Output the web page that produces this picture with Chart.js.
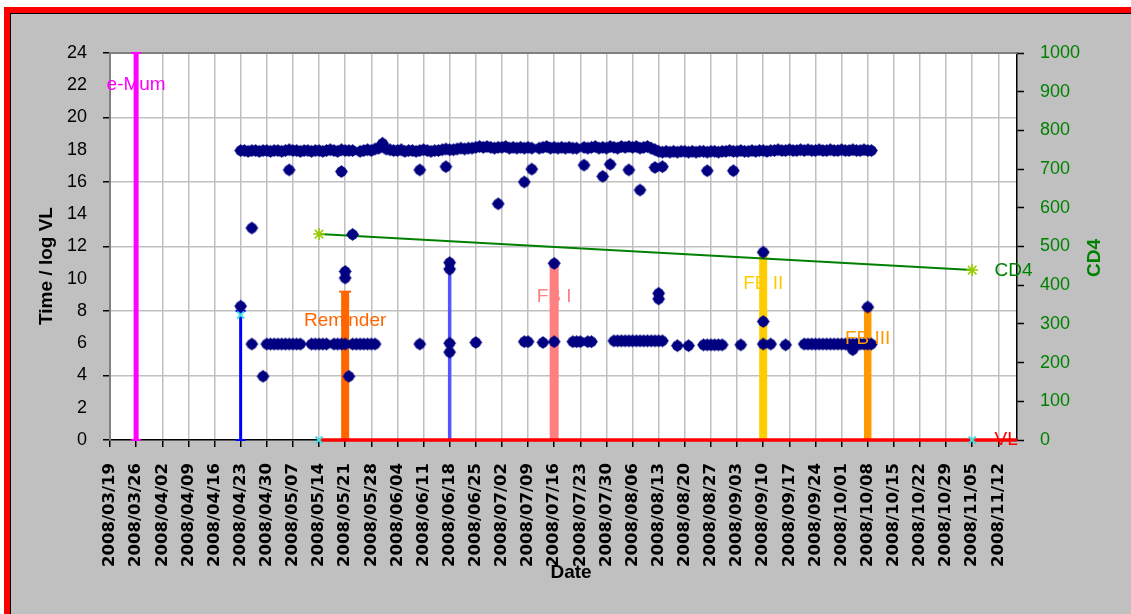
<!DOCTYPE html>
<html><head><meta charset="utf-8">
<script src="https://cdn.jsdelivr.net/npm/chart.js@4"></script>
<style>html,body{margin:0;padding:0;background:#fff;}canvas{display:block;}</style>
</head><body>
<canvas id="c" width="1131" height="614" style="width:1131px;height:614px"></canvas>
<script>
// x values are days counted from 2008/03/19 (day 0)
const weekLabels = ['2008/03/19','2008/03/26','2008/04/02','2008/04/09','2008/04/16','2008/04/23','2008/04/30','2008/05/07','2008/05/14','2008/05/21','2008/05/28','2008/06/04','2008/06/11','2008/06/18','2008/06/25','2008/07/02','2008/07/09','2008/07/16','2008/07/23','2008/07/30','2008/08/06','2008/08/13','2008/08/20','2008/08/27','2008/09/03','2008/09/10','2008/09/17','2008/09/24','2008/10/01','2008/10/08','2008/10/15','2008/10/22','2008/10/29','2008/11/05','2008/11/12'];

// evening dose times, one per day starting at day 35 (2008/04/23)
const topRowStartDay = 35;
const topRowTimes = [
17.95,17.95,17.9,17.95,17.95,17.9,17.95,17.95,17.9,17.95,
17.95,17.9,17.95,18.0,17.95,17.95,17.9,17.95,17.95,17.9,
17.95,17.95,17.9,17.95,18.0,17.95,17.9,18.0,17.95,17.95,
17.95,null,17.9,17.95,18.0,17.95,18.05,18.1,18.4,18.05,
18.0,17.95,17.95,18.0,17.9,17.95,17.95,17.9,17.95,18.0,
17.95,17.9,17.95,17.95,18.0,18.05,18.0,18.0,18.05,18.1,
18.05,18.1,18.1,18.15,18.2,18.15,18.2,18.15,18.1,18.15,
18.15,18.2,18.1,18.15,18.1,18.15,18.1,18.15,18.1,null,
18.1,18.15,18.2,18.1,18.15,18.1,18.15,18.1,18.15,18.1,
18.1,null,18.15,18.1,18.15,18.2,18.1,18.15,18.1,18.2,
18.15,18.1,18.2,18.15,18.2,18.15,18.2,18.1,18.15,18.2,
18.1,18.0,17.9,17.85,17.9,17.85,17.9,17.85,17.9,17.9,
17.85,17.9,17.85,17.9,17.9,17.85,17.9,17.9,17.85,17.9,
17.9,17.95,17.9,17.9,17.95,17.9,17.9,17.95,17.9,17.95,
17.95,17.9,17.95,17.95,18.0,17.95,17.95,18.0,17.95,17.95,
18.0,17.95,18.0,17.95,17.95,18.0,17.95,17.95,18.0,17.95,
17.95,18.0,17.95,17.95,18.0,17.95,17.95,18.0,17.95,17.95];

// morning dose times
const lowRowDays = [38,41,42,43,44,45,46,47,48,49,50,51,54,55,56,57,58,60,61,62,63,64,65,66,67,68,69,70,71,83,91,91,98,111,112,116,119,124,125,126,128,129,
135,136,137,138,139,140,141,142,143,144,145,146,147,148,152,155,159,160,161,162,163,164,169,175,177,181,
186,187,188,189,190,191,192,193,194,195,196,197,198,199,199,200,201,202,203,204];
const lowRowTimes = [5.95,3.95,5.95,5.95,5.95,5.95,5.95,5.95,5.95,5.95,5.95,5.95,5.95,5.95,5.95,5.95,5.95,5.95,5.95,5.95,5.95,3.95,5.95,5.95,5.95,5.95,5.95,5.95,5.95,5.95,6.0,5.45,6.05,6.1,6.1,6.05,6.1,6.1,6.1,6.1,6.1,6.1,
6.15,6.15,6.15,6.15,6.15,6.15,6.15,6.15,6.15,6.15,6.15,6.15,6.15,6.15,5.85,5.85,5.9,5.9,5.9,5.9,5.9,5.9,5.9,5.95,5.95,5.9,
5.95,5.95,5.95,5.95,5.95,5.95,5.95,5.95,5.95,5.95,5.95,5.95,5.95,5.95,5.6,5.95,5.95,5.95,5.95,5.95];

// other measurements (irregular times / log VL)
const otherDays = [35,38,48,62,63,63,65,83,90,91,91,104,111,113,119,127,132,134,139,142,146,147,147,148,160,167,175,175,203];
const otherTimes = [8.3,13.15,16.75,16.65,10.45,10.05,12.75,16.75,16.95,11.0,10.6,14.65,16.0,16.8,10.95,17.05,16.35,17.1,16.75,15.5,16.9,9.1,8.75,16.95,16.7,16.7,11.65,7.35,8.25];

const vlDays = [35, 56, 231];
const vlValues = [7.75, 0, 0];
const vlLineDays = [56, 243];
const vlLineValues = [0, 0];
const cd4Days = [56, 231];
const cd4Values = [532, 439];

const eventNames = ['e-Mum','VL 1','Reminder','VL 2','FB I','FB II','FB III'];
const eventDays = [7, 35, 63, 91, 119, 175, 203];
const eventTops = [24, 8.0, 9.2, 10.6, 11.0, 11.6, 8.2];
const eventStyle = [
  {color:'#FF00FF', width:5, cap:5},
  {color:'#0000FF', width:3, cap:5},
  {color:'#FF6600', width:8, cap:6},
  {color:'#5555FF', width:3.5, cap:5},
  {color:'#FF8080', width:9, cap:6},
  {color:'#FFCC00', width:8, cap:6},
  {color:'#FF9900', width:7.5, cap:6}
];

const labelTexts = ['e-Mum','Reminder','FB I','FB II','FB III','CD4','VL'];
const labelDays = [7, 63, 119, 175, 203, 237, 237];
const labelValues = [22.05, 7.4, 8.9, 9.67, 6.3, 10.5, 0];
const labelStyle = [
  {color:'#FF00FF', align:'center'},
  {color:'#FF6600', align:'center'},
  {color:'#FF8080', align:'center'},
  {color:'#FFCC00', align:'center'},
  {color:'#FF9900', align:'center'},
  {color:'#008000', align:'left'},
  {color:'#FF0000', align:'left'}
];

const pts = (xs, ys) => xs.map((x, i) => ({x: x, y: ys[i]}));
const topRowPts = topRowTimes.map((v, i) => ({x: topRowStartDay + i, y: v}));

const NAVY = '#000080';
// blobby diamond marker like the original
const marker = document.createElement('canvas');
marker.width = 15; marker.height = 15;
(function () {
  const m = marker.getContext('2d');
  m.fillStyle = NAVY;
  m.beginPath(); m.moveTo(7.5, 1); m.lineTo(14, 7.5); m.lineTo(7.5, 14); m.lineTo(1, 7.5); m.closePath(); m.fill();
  m.beginPath(); m.arc(7.5, 7.5, 5.3, 0, Math.PI * 2); m.fill();
})();

const markerDs = (data) => ({
  data, showLine: false, pointStyle: marker, pointRadius: 7, pointHoverRadius: 7, clip: false
});

const datasets = [
  markerDs(topRowPts),
  markerDs(pts(lowRowDays, lowRowTimes)),
  markerDs(pts(otherDays, otherTimes)),
  {data: pts(vlDays, vlValues), showLine: false, pointStyle: 'crossRot', pointRadius: 5,
   pointBorderColor: '#40E0E0', pointBorderWidth: 2, clip: false},
  {data: pts(cd4Days, cd4Values), yAxisID: 'y2', borderColor: '#008000', borderWidth: 2,
   pointStyle: 'star', pointRadius: 6, pointBorderColor: '#99CC00', pointBackgroundColor: '#99CC00', pointBorderWidth: 1.5, clip: false},
  {data: pts(vlLineDays, vlLineValues), borderColor: '#FF0000', borderWidth: 3.5, pointRadius: 0, clip: false}
];
eventDays.forEach((d, i) => {
  const s = eventStyle[i];
  datasets.push({
    label: eventNames[i],
    data: [{x: d, y: 0}, {x: d, y: eventTops[i]}],
    borderColor: s.color, borderWidth: s.width, pointStyle: 'line', pointRadius: s.cap,
    pointBorderColor: s.color, pointBorderWidth: 2, clip: false
  });
});

const framePlugin = {
  id: 'frame',
  beforeDraw(chart) {
    const ctx = chart.ctx, W = chart.width, H = chart.height, a = chart.chartArea;
    ctx.save();
    ctx.fillStyle = '#FFFFFF'; ctx.fillRect(0, 0, W, H);
    ctx.fillStyle = '#C0C0C0'; ctx.fillRect(10, 13, W - 10, H - 13);
    ctx.fillStyle = '#FF0000'; ctx.fillRect(4, 7, W - 4, 6); ctx.fillRect(4, 7, 6, H - 7);
    ctx.fillStyle = '#000000'; ctx.fillRect(10, 13, W - 10, 1); ctx.fillRect(10, 13, 1, H - 13);
    ctx.fillStyle = '#FFFFFF'; ctx.fillRect(a.left, a.top, a.right - a.left, a.bottom - a.top);
    ctx.restore();
  },
  beforeDatasetsDraw(chart) {
    const ctx = chart.ctx, a = chart.chartArea;
    ctx.save();
    ctx.strokeStyle = '#808080'; ctx.lineWidth = 2;
    ctx.beginPath(); ctx.moveTo(a.left - 1, a.top); ctx.lineTo(a.right, a.top); ctx.stroke();
    ctx.restore();
  },
  afterDatasetsDraw(chart) {
    const ctx = chart.ctx, xs = chart.scales.x, ys = chart.scales.y;
    ctx.save();
    ctx.font = '19px "Liberation Sans", Arial, sans-serif';
    ctx.textBaseline = 'middle';
    labelTexts.forEach((t, i) => {
      ctx.fillStyle = labelStyle[i].color;
      ctx.textAlign = labelStyle[i].align;
      ctx.fillText(t, xs.getPixelForValue(labelDays[i]), ys.getPixelForValue(labelValues[i]));
    });
    ctx.restore();
  },
  afterDraw(chart) {
    const ctx = chart.ctx;
    ctx.save();
    ctx.font = 'bold 19px "Liberation Sans", Arial, sans-serif';
    ctx.textAlign = 'center'; ctx.textBaseline = 'middle';
    ctx.fillStyle = '#000000';
    ctx.save(); ctx.translate(47, 266); ctx.rotate(-Math.PI / 2); ctx.fillText('Time / log VL', 0, 0); ctx.restore();
    ctx.fillText('Date', 571, 573);
    ctx.fillStyle = '#008000';
    ctx.save(); ctx.translate(1095, 258); ctx.rotate(-Math.PI / 2); ctx.fillText('CD4', 0, 0); ctx.restore();
    ctx.restore();
  }
};

new Chart(document.getElementById('c'), {
  type: 'line',
  data: {datasets},
  options: {
    responsive: false, animation: false,
    layout: {padding: {top: 53, left: 0, right: 0, bottom: 0}},
    plugins: {legend: {display: false}, tooltip: {enabled: false}},
    scales: {
      x: {
        type: 'linear', min: 0, max: 243, position: 'bottom',
        afterBuildTicks: s => { s.ticks = weekLabels.map((_, i) => ({value: i * 7})); },
        afterFit: s => { s.height = 174; },
        ticks: {autoSkip: false, minRotation: 90, maxRotation: 90, padding: 16,
          color: '#000000', font: {family: '"DejaVu Sans", sans-serif', size: 16.5, weight: 'bold'},
          callback: v => weekLabels[Math.round(v / 7)] || ''},
        grid: {color: '#C0C0C0', lineWidth: 1.5, tickLength: 7, tickColor: '#000000', tickWidth: 1.5},
        border: {color: '#000000', width: 1.5}
      },
      y: {
        position: 'left', min: 0, max: 24,
        afterFit: s => { s.width = 110; },
        ticks: {stepSize: 2, padding: 16, color: '#000000', font: {family: '"Liberation Sans", Arial, sans-serif', size: 18}},
        grid: {color: c => (c.tick && c.tick.value % 4 === 0) ? '#C0C0C0' : 'rgba(0,0,0,0)', lineWidth: 1.5,
          tickLength: 7, tickColor: c => (c.tick && c.tick.value % 4 === 0) ? '#000000' : 'rgba(0,0,0,0)', tickWidth: 1.5},
        border: {color: '#808080', width: 2}
      },
      y2: {
        position: 'right', min: 0, max: 1000,
        afterFit: s => { s.width = 114; },
        ticks: {stepSize: 100, padding: 16, color: '#008000', font: {family: '"Liberation Sans", Arial, sans-serif', size: 18},
          callback: v => String(v)},
        grid: {drawOnChartArea: false, tickLength: 7, tickColor: '#000000', tickWidth: 1.5},
        border: {color: '#000000', width: 1.5}
      }
    }
  },
  plugins: [framePlugin]
});
</script>
</body></html>
